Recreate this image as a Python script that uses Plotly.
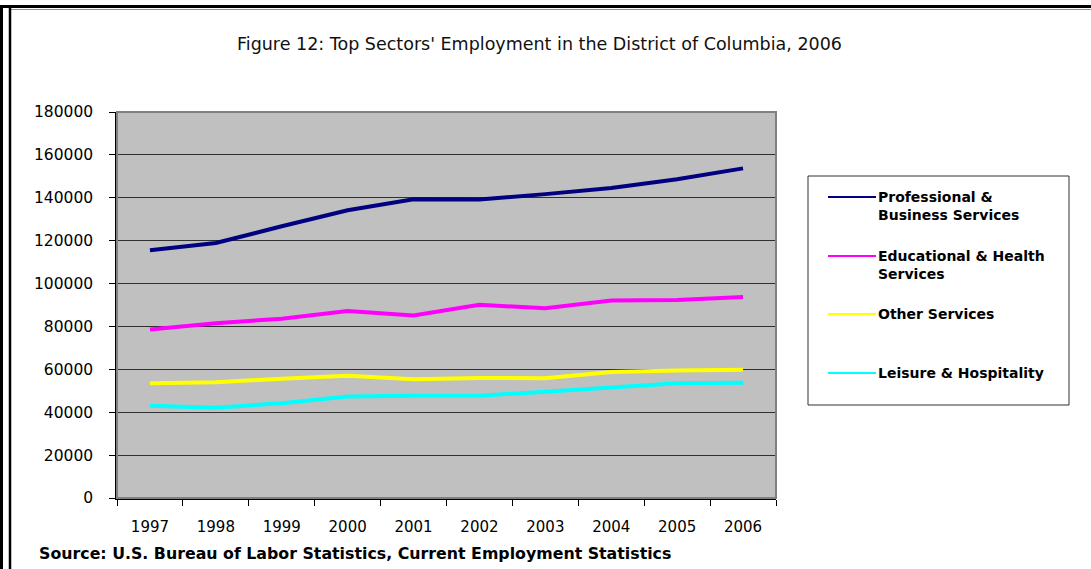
import plotly.graph_objects as go

years = ["1997", "1998", "1999", "2000", "2001", "2002", "2003", "2004", "2005", "2006"]
professional = [115500, 118900, 126700, 134200, 139300, 139200, 141700, 144600, 148600, 153700]
educational = [78600, 81500, 83600, 87200, 85100, 90100, 88500, 92100, 92300, 93700]
other = [53500, 54000, 55600, 57000, 55400, 56000, 55900, 58700, 59500, 59800]
leisure = [43000, 42100, 44200, 47300, 47700, 47700, 49600, 51600, 53500, 53800]

series_names = ["Professional &<br>Business Services", "Educational & Health<br>Services",
                "Other Services", "Leisure & Hospitality"]
series_values = [professional, educational, other, leisure]
series_colors = ["#000080", "#FF00FF", "#FFFF00", "#00FFFF"]

y_ticks = [0, 20000, 40000, 60000, 80000, 100000, 120000, 140000, 160000, 180000]

W, H = 1091, 569
L, R, T, B = 117, 315, 112, 71
PW, PH = W - L - R, H - T - B


def px(x):
    return (x - L) / PW


def py(y):
    return (H - B - y) / PH


FONT = "DejaVu Sans, sans-serif"

fig = go.Figure()
for name, vals, col in zip(series_names, series_values, series_colors):
    fig.add_trace(go.Scatter(x=years, y=vals, mode="lines", name=name,
                             line=dict(color=col, width=4), showlegend=False))

shapes = [
    # plot border
    dict(type="rect", xref="paper", yref="paper", x0=0, x1=1, y0=0, y1=1,
         line=dict(color="#808080", width=2), layer="above"),
    # legend box
    dict(type="rect", xref="paper", yref="paper", x0=px(808), x1=px(1069), y0=py(176), y1=py(405),
         line=dict(color="#303030", width=1), fillcolor="white"),
    # outer frame
    dict(type="line", xref="paper", yref="paper", x0=px(0), x1=px(1091), y0=py(6.5), y1=py(6.5),
         line=dict(color="black", width=3)),
    dict(type="line", xref="paper", yref="paper", x0=px(9), x1=px(1091), y0=py(9.5), y1=py(9.5),
         line=dict(color="#909090", width=1)),
    dict(type="line", xref="paper", yref="paper", x0=px(1.5), x1=px(1.5), y0=py(5), y1=py(569),
         line=dict(color="black", width=3)),
    dict(type="line", xref="paper", yref="paper", x0=px(10), x1=px(10), y0=py(8), y1=py(569),
         line=dict(color="black", width=2.5)),
]

annotations = [
    dict(text="Figure 12: Top Sectors' Employment in the District of Columbia, 2006",
         xref="paper", yref="paper", x=px(539), y=py(44), xanchor="center", yanchor="middle",
         showarrow=False, font=dict(family=FONT, size=17.5, color="#111111")),
    dict(text="Source: U.S. Bureau of Labor Statistics, Current Employment Statistics",
         xref="paper", yref="paper", x=px(37), y=py(553), xanchor="left", yanchor="middle",
         showarrow=False, font=dict(family=FONT, size=15.8, color="black", weight="bold")),
]

legend_line_y = [197, 256, 314, 373]
for name, col, ly in zip(series_names, series_colors, legend_line_y):
    shapes.append(dict(type="line", xref="paper", yref="paper", x0=px(828), x1=px(876),
                       y0=py(ly), y1=py(ly), line=dict(color=col, width=2)))
    annotations.append(dict(text=name, xref="paper", yref="paper", x=px(876), y=py(ly - 10),
                            xanchor="left", yanchor="top", align="left", showarrow=False,
                            font=dict(family=FONT, size=14, color="black", weight="bold")))

fig.update_layout(
    width=W, height=H,
    margin=dict(l=L, r=R, t=T, b=B, autoexpand=False),
    paper_bgcolor="white",
    plot_bgcolor="#C0C0C0",
    shapes=shapes,
    annotations=annotations,
    xaxis=dict(type="category", categoryorder="array", categoryarray=years,
               tickson="boundaries", ticks="outside", ticklen=6, tickcolor="black",
               showline=True, linecolor="black", linewidth=1.5, showgrid=False,
               tickfont=dict(family=FONT, size=15, color="black"),
               ticklabelstandoff=14, zeroline=False, range=[-0.5, 9.5]),
    yaxis=dict(range=[0, 180000], tickvals=y_ticks, ticktext=[str(v) for v in y_ticks],
               ticks="outside", ticklen=6, tickcolor="black",
               showline=True, linecolor="black", linewidth=1.5,
               showgrid=True, gridcolor="#303030", gridwidth=1, zeroline=False,
               tickfont=dict(family=FONT, size=15.5, color="black"), ticklabelstandoff=13),
)

fig.write_html("out.html")
